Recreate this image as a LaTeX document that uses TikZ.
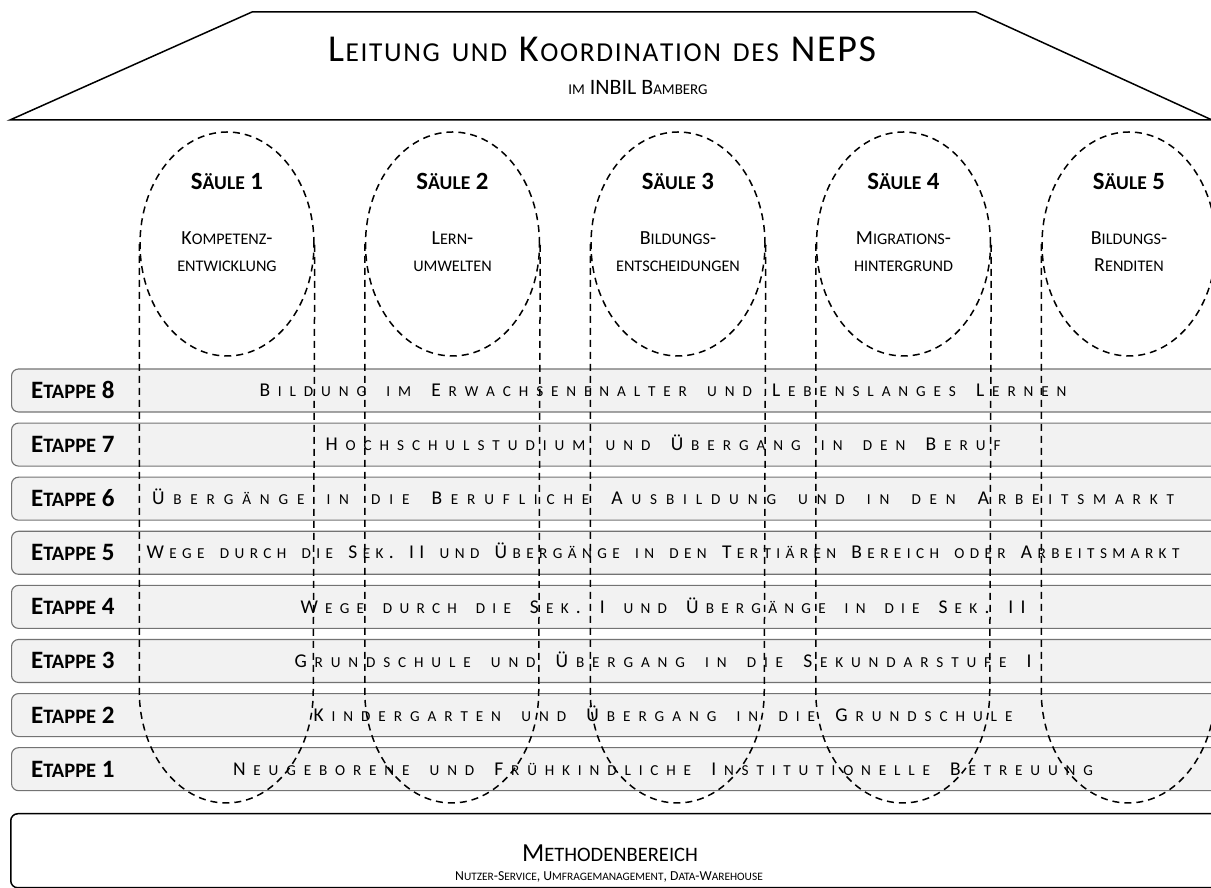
\documentclass[tikz,border=0pt]{standalone}
\usepackage{fontspec}
\setmainfont{Carlito}
\usetikzlibrary{shapes.geometric,positioning}

% fake small caps: capitals full size, the rest as scaled capitals
\ExplSyntaxOn
\fp_new:N \l__kap_ratio_fp
\bool_new:N \l__kap_first_bool
\bool_new:N \l__kap_spread_bool
\seq_new:N \l__kap_words_seq
\cs_new_protected:Npn \__kap_glue:
  { \bool_if:NT \l__kap_spread_bool { \skip_horizontal:n { 0pt plus 1fil } } }
\cs_new_protected:Npn \__kap_char:N #1
  {
    \__kap_glue:
    \bool_lazy_or:nnTF
      { \int_compare_p:nNn { \char_value_uccode:n { `#1 } } = { 0 } }
      { \int_compare_p:nNn { \char_value_uccode:n { `#1 } } = { `#1 } }
      { #1 }
      {
        \group_begin:
        \fontsize { \fp_eval:n { \l__kap_ratio_fp * \use:c { f@size } } pt } { 0pt }
        \selectfont
        \char_generate:nn { \char_value_uccode:n { `#1 } } { 12 }
        \group_end:
      }
  }
\cs_new_protected:Npn \__kap_text:n #1
  {
    \seq_set_split:Nnn \l__kap_words_seq { ~ } {#1}
    \bool_set_true:N \l__kap_first_bool
    \seq_map_inline:Nn \l__kap_words_seq
      {
        \bool_if:NF \l__kap_first_bool { \__kap_glue: \c_space_tl }
        \bool_set_false:N \l__kap_first_bool
        \tl_map_function:nN {##1} \__kap_char:N
      }
  }
\cs_generate_variant:Nn \__kap_text:n { e }
\NewDocumentCommand \kap { O{0.8} o m }
  {
    \group_begin:
    \fp_set:Nn \l__kap_ratio_fp {#1}
    \IfNoValueTF {#2}
      { \bool_set_false:N \l__kap_spread_bool \__kap_text:e {#3} }
      {
        \bool_set_true:N \l__kap_spread_bool
        \hbox_to_wd:nn {#2}
          { \skip_horizontal:n { 0pt plus -1fil } \__kap_text:e {#3} }
      }
    \group_end:
  }
\ExplSyntaxOff

\tikzset{
  roof/.style={draw,line width=1.5pt,line join=miter},
  pillar/.style={draw,dash pattern=on 7pt off 5pt,line width=1.5pt},
  band/.style={draw=black!55,fill=black!5,rounded corners=7pt,line width=1.1pt,
    minimum width=1230pt,minimum height=43pt,inner sep=0pt},
  basebox/.style={draw,line width=1.5pt,rounded corners=7pt,
    minimum width=1230pt,minimum height=74pt,inner sep=0pt},
  etappe/.style={anchor=base west,inner sep=0pt,font=\fontsize{25}{30}\selectfont\bfseries},
  bandtext/.style={anchor=base,inner sep=0pt,font=\fontsize{19.5}{24}\selectfont},
  saeule/.style={anchor=base,inner sep=0pt,font=\fontsize{24.8}{30}\selectfont\bfseries},
  topic/.style={anchor=base,inner sep=0pt,font=\fontsize{20}{24}\selectfont},
  headline/.style={anchor=base,inner sep=0pt,font=\fontsize{38}{44}\selectfont}}

\begin{document}
\begin{tikzpicture}[x=1pt,y=1pt]
\useasboundingbox(0,0)rectangle(1211,888);
\clip(0,0)rectangle(1211,888);
% roof
\draw[roof](10,768)--(252,876)--(976,876)--(1212,768)--cycle;
\node[headline](head)at(602,826){\kap[0.72][548pt]{Leitung und Koordination des NEPS}};
\node[anchor=base,inner sep=0pt,font=\fontsize{22}{26}\selectfont](sub)at(638,793){\kap[0.68]{im INBIL Bamberg}};
% etappen
\foreach \k/\w/\txt in {
  8/807/{Bildung im Erwachsenenalter und Lebenslanges Lernen},
  7/675/{Hochschulstudium und Übergang in den Beruf},
  6/1022/{Übergänge in die Berufliche Ausbildung und in den Arbeitsmarkt},
  5/1033/{Wege durch die Sek. II und Übergänge in den Tertiären Bereich oder Arbeitsmarkt},
  4/725/{Wege durch die Sek. I und Übergänge in die Sek. II},
  3/737/{Grundschule und Übergang in die Sekundarstufe I},
  2/699/{Kindergarten und Übergang in die Grundschule},
  1/860/{Neugeborene und Frühkindliche Institutionelle Betreuung}}{
  \node[band,anchor=west](band\k)at(11,{497.5-(8-\k)*54.1}){};
  \node[etappe](lab\k)at([xshift=20pt,yshift=-8pt]band\k.west){\kap[0.82]{Etappe \k}};
  \node[bandtext](txt\k)at(663,{497.5-(8-\k)*54.1-6.2}){\kap[0.78][\w pt]{\txt}};
}
% saeulen
\foreach \i/\x/\a/\b in {1/227/Kompetenz-/entwicklung,2/452.5/Lern-/umwelten,
  3/678/Bildungs-/entscheidungen,4/903.5/Migrations-/hintergrund,5/1129/Bildungs-/Renditen}{
  \node[pillar,ellipse,minimum width=174pt,minimum height=224pt,inner sep=0pt](s\i)at(\x,644){};
  \draw[pillar](s\i.west)--++(0,-447)arc[start angle=180,end angle=360,x radius=87pt,y radius=112pt]--(s\i.east);
  \node[saeule](h\i)at(\x,698){\kap[0.79]{Säule \i}};
  \node[topic](a\i)at(\x,643){\kap[0.81]{\a}};
  \node[topic](b\i)at(\x,616){\kap[0.81]{\b}};
}
% methodenbereich
\node[basebox,anchor=north west](base)at(10,75){};
\node[anchor=base,inner sep=0pt,font=\fontsize{26}{30}\selectfont](meth)at(610,26){\kap[0.79]{Methodenbereich}};
\node[anchor=base,inner sep=0pt,font=\fontsize{13.7}{16}\selectfont](serv)at(609,7){\kap[0.83]{Nutzer-Service, Umfragemanagement, Data-Warehouse}};
\end{tikzpicture}
\end{document}
